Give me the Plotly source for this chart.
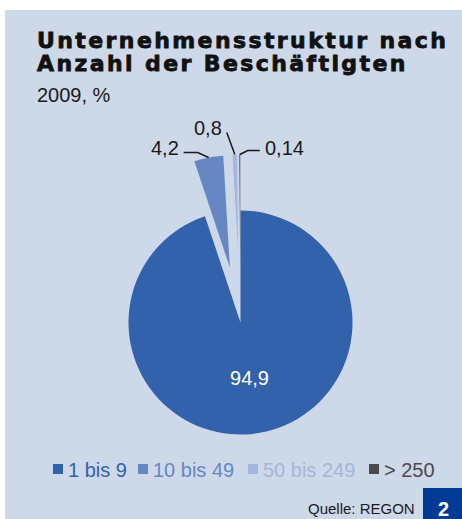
import math
import plotly.graph_objects as go

# ---------------- data ----------------
categories = ["1 bis 9", "10 bis 49", "50 bis 249", "> 250"]
values = [94.9, 4.2, 0.8, 0.14]
value_labels = ["94,9", "4,2", "0,8", "0,14"]
colors = ["#3262ac", "#6588c2", "#a3b6db", "#4d4849"]
pulls = [0, 0.5, 0.5, 0.5]

title_line1 = "Unternehmensstruktur nach"
title_line2 = "Anzahl der Beschäftigten"
subtitle = "2009, %"
source = "Quelle: REGON"
badge = "2"

# ---------------- layout geometry (pixels) ----------------
W, H = 462, 519
BG = "#cdd8e9"
cx, cy, R = 240.5, 322.5, 112
maxpull = max(pulls)
half = R * (1 + maxpull)
dom_x = [(cx - half) / W, (cx + half) / W]
dom_y = [(H - (cy + half)) / H, (H - (cy - half)) / H]


def X(px):
    return px / W


def Y(py):
    return 1 - py / H


fig = go.Figure()
fig.add_trace(go.Pie(
    labels=categories,
    values=values,
    text=[value_labels[0], "", "", ""],
    textinfo="text",
    textposition=["inside", "none", "none", "none"],
    insidetextorientation="horizontal",
    insidetextfont=dict(family="Liberation Sans, Arial", size=20, color="white"),
    marker=dict(colors=colors, line=dict(color=BG, width=[0, 0, 1, 0])),
    pull=pulls,
    sort=False,
    direction="clockwise",
    rotation=0,
    domain=dict(x=dom_x, y=dom_y),
    showlegend=False,
    hovertemplate="%{label}: %{text}<extra></extra>",
))

shapes = []
annotations = []

# background panel
shapes.append(dict(type="rect", xref="paper", yref="paper", x0=X(5), x1=1, y0=0, y1=Y(10),
                   fillcolor=BG, line=dict(width=0), layer="below"))
# badge box
shapes.append(dict(type="rect", xref="paper", yref="paper", x0=X(423), x1=1, y0=0, y1=Y(488),
                   fillcolor="#003b95", line=dict(width=0), layer="above"))

# leader lines for small slices, derived from slice geometry
total = sum(values)
cum = 0
outer = []
for v, p in zip(values, pulls):
    th = 2 * math.pi * (cum + v / 2) / total
    rr = R * (1 + p)
    outer.append((cx + rr * math.sin(th), cy - rr * math.cos(th)))
    cum += v

LINE = dict(color="#1a1a1a", width=1.5)
lab_font = dict(family="Liberation Sans, Arial", size=20, color="#1a1a1a")

# 4,2
ox, oy = outer[1]
ex, ey = ox - 11, oy - 5
tx = ex - 14
shapes.append(dict(type="path", xref="paper", yref="paper",
                   path=f"M{X(ox)},{Y(oy)} L{X(ex)},{Y(ey)} L{X(tx)},{Y(ey)}", line=LINE))
annotations.append(dict(x=X(tx - 3), y=Y(ey - 5), xref="paper", yref="paper", text=value_labels[1],
                        showarrow=False, xanchor="right", yanchor="middle", font=lab_font))
# 0,8
ox, oy = outer[2]
ex, ey = ox - 8, oy - 22
shapes.append(dict(type="path", xref="paper", yref="paper",
                   path=f"M{X(ox)},{Y(oy)} L{X(ex)},{Y(ey)}", line=LINE))
annotations.append(dict(x=X(ex - 3), y=Y(ey - 5), xref="paper", yref="paper", text=value_labels[2],
                        showarrow=False, xanchor="right", yanchor="middle", font=lab_font))
# 0,14
ox, oy = outer[3]
ex, ey = ox + 8, oy - 4
tx = ex + 12
shapes.append(dict(type="path", xref="paper", yref="paper",
                   path=f"M{X(ox)},{Y(oy)} L{X(ex)},{Y(ey)} L{X(tx)},{Y(ey)}", line=LINE))
annotations.append(dict(x=X(tx + 3), y=Y(ey - 3), xref="paper", yref="paper", text=value_labels[3],
                        showarrow=False, xanchor="left", yanchor="middle", font=lab_font))

# titles
tfont = dict(family="DejaVu Sans", size=22, color="#111111")
tstyle = "letter-spacing:2.4px;stroke:#111111;stroke-width:0.8px"
annotations.append(dict(x=X(35), y=Y(40), xref="paper", yref="paper", showarrow=False,
                        xanchor="left", yanchor="middle", font=tfont,
                        text=f"<b><span style='{tstyle}'>{title_line1}</span></b>"))
annotations.append(dict(x=X(35), y=Y(63), xref="paper", yref="paper", showarrow=False,
                        xanchor="left", yanchor="middle", font=tfont,
                        text=f"<b><span style='{tstyle}'>{title_line2}</span></b>"))
annotations.append(dict(x=X(35), y=Y(95), xref="paper", yref="paper", showarrow=False,
                        xanchor="left", yanchor="middle", text=subtitle,
                        font=dict(family="Liberation Sans, Arial", size=20, color="#1a1a1a")))

# legend (manual)
legend_x = [53, 138, 248, 369]
leg_y = 469
for name, col, lx in zip(categories, colors, legend_x):
    shapes.append(dict(type="rect", xref="paper", yref="paper", x0=X(lx), x1=X(lx + 10),
                       y0=Y(leg_y + 5), y1=Y(leg_y - 5), fillcolor=col, line=dict(width=0)))
    annotations.append(dict(x=X(lx + 13), y=Y(leg_y + 1), xref="paper", yref="paper", showarrow=False,
                            xanchor="left", yanchor="middle", text=name,
                            font=dict(family="Liberation Sans, Arial", size=20, color=col)))

# source + badge
annotations.append(dict(x=X(417), y=Y(508), xref="paper", yref="paper", showarrow=False,
                        xanchor="right", yanchor="middle", text=source,
                        font=dict(family="Liberation Sans, Arial", size=15, color="#1a1a1a")))
annotations.append(dict(x=X(443), y=Y(509), xref="paper", yref="paper", showarrow=False,
                        xanchor="center", yanchor="middle", text=f"<b>{badge}</b>",
                        font=dict(family="Liberation Sans, Arial", size=20, color="white")))

fig.update_layout(
    width=W, height=H,
    margin=dict(l=0, r=0, t=0, b=0),
    paper_bgcolor="white",
    plot_bgcolor=BG,
    shapes=shapes,
    annotations=annotations,
    showlegend=False,
)

fig.write_html(
    "out.html",
    config={"displayModeBar": False},
    post_script="document.body.style.margin='0';document.body.style.overflow='hidden';",
)
